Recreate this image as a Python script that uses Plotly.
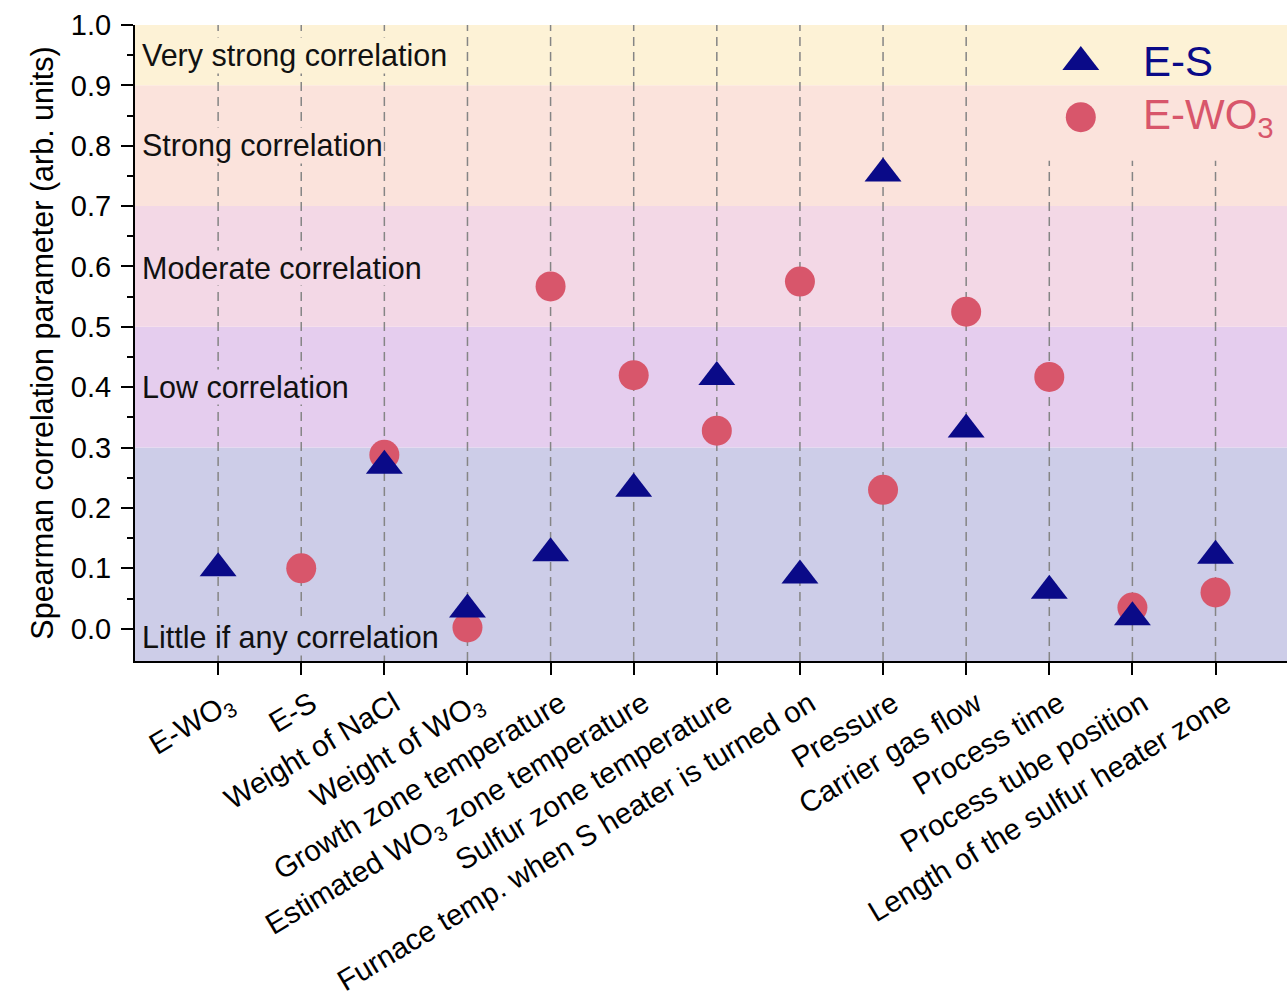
import plotly.graph_objects as go

# Process parameters compared against each response
categories = [
    "E-WO<sub>3</sub>", "E-S", "Weight of NaCl", "Weight of WO<sub>3</sub>",
    "Growth zone temperature", "Estimated WO<sub>3</sub> zone temperature",
    "Sulfur zone temperature", "Furnace temp. when S heater is turned on",
    "Pressure", "Carrier gas flow", "Process time", "Process tube position",
    "Length of the sulfur heater zone",
]
# Spearman correlation with E-S (None where not applicable)
es_values = [0.10, None, 0.27, 0.032, 0.125, 0.232, 0.417, 0.088, 0.754,
             0.33, 0.063, 0.019, 0.121]
# Spearman correlation with E-WO3
ewo3_values = [None, 0.10, 0.288, 0.002, 0.567, 0.42, 0.328, 0.575, 0.23,
               0.525, 0.417, 0.035, 0.06]

# Interpretation bands: (lower, upper, label, colour)
band_low = [-0.0535, 0.3, 0.5, 0.7, 0.9]
band_high = [0.3, 0.5, 0.7, 0.9, 1.0]
band_labels = ["Little if any correlation", "Low correlation",
               "Moderate correlation", "Strong correlation",
               "Very strong correlation"]
band_label_y = [-0.015, 0.4, 0.597, 0.8, 0.95]
band_colors = ["#cdcde8", "#e5cdee", "#f3d8e6", "#fbe3dc", "#fdf2d6"]

NAVY = "#0a0a88"
ROSE = "#d8566b"
FONT = "Liberation Sans, Arial, sans-serif"

xpos = list(range(1, len(categories) + 1))
y_min, y_max = band_low[0], band_high[-1]
x_max = 13.86

fig = go.Figure()

# E-WO3 points first so the triangles sit on top
fig.add_trace(go.Scatter(
    x=xpos, y=ewo3_values, mode="markers", name="E-WO<sub>3</sub>",
    marker=dict(symbol="circle", size=30, color=ROSE, line=dict(width=0)),
    showlegend=False,
))
fig.add_trace(go.Scatter(
    x=xpos, y=es_values, mode="markers", name="E-S",
    marker=dict(symbol="triangle-up", size=32, color=NAVY, line=dict(width=0)),
    showlegend=False,
))

# Legend drawn on a hidden paper-scaled axis so the symbols keep their size
legend_names = ["E-S", "E-WO<sub>3</sub>"]
legend_symbols = ["triangle-up", "circle"]
legend_colors = [NAVY, ROSE]
legend_sizes = [32, 30]
legend_y = [0.942, 0.855]
for name, sym, col, sz, ly in zip(legend_names, legend_symbols, legend_colors,
                                  legend_sizes, legend_y):
    fig.add_trace(go.Scatter(
        x=[0.821], y=[ly], mode="markers", xaxis="x3", yaxis="y3",
        marker=dict(symbol=sym, size=sz, color=col, line=dict(width=0)),
        showlegend=False, hoverinfo="skip",
    ))
    fig.add_annotation(
        x=0.873, y=ly, xref="paper", yref="paper", text=name,
        showarrow=False, xanchor="left", yanchor="middle",
        font=dict(family=FONT, size=42, color=col),
    )

shapes = []
# Coloured correlation bands
for lo, hi, col in zip(band_low, band_high, band_colors):
    shapes.append(dict(type="rect", xref="paper", yref="y", x0=0, x1=1,
                       y0=lo, y1=hi, fillcolor=col, line=dict(width=0),
                       layer="below"))
# Dashed guide line at every category (right-most ones stop below the legend)
for i, xp in enumerate(xpos):
    top = y_max if xp <= 10 else 0.775
    shapes.append(dict(type="line", xref="x", yref="y", x0=xp, x1=xp,
                       y0=y_min, y1=top,
                       line=dict(color="#858585", width=1.5, dash="9px,6px"),
                       layer="below"))

# Band names
for lbl, ly, col in zip(band_labels, band_label_y, band_colors):
    fig.add_annotation(
        x=0, y=ly, xref="paper", yref="y", text=lbl, showarrow=False,
        xanchor="left", yanchor="middle", xshift=6, bgcolor=col, borderpad=0,
        font=dict(family=FONT, size=30.5, color="#111111"),
    )

fig.update_layout(
    width=1287, height=996,
    margin=dict(l=135, r=0, t=25, b=335),
    paper_bgcolor="white", plot_bgcolor="white",
    font=dict(family=FONT, color="black"),
    shapes=shapes,
    xaxis=dict(
        range=[0, x_max], tickmode="array", tickvals=xpos,
        ticktext=categories, tickangle=-31, automargin=False,
        tickfont=dict(family=FONT, size=29.5, color="black"),
        ticks="outside", ticklen=12, tickwidth=2, tickcolor="black",
        ticklabelstandoff=0, ticklabelshift=10,
        showline=True, linecolor="black", linewidth=2,
        showgrid=False, zeroline=False,
    ),
    xaxis2=dict(
        overlaying="x", side="top", anchor="y", range=[0, x_max],
        tickmode="array", tickvals=[0] + xpos, showticklabels=False,
        ticks="inside", ticklen=5, tickwidth=1.5, tickcolor="black",
        showline=True, linecolor="black", linewidth=2, automargin=False,
        showgrid=False, zeroline=False,
    ),
    # Origin tick at the left end of the category axis
    xaxis4=dict(
        overlaying="x", side="bottom", anchor="y", range=[0, x_max],
        tickmode="array", tickvals=[0], showticklabels=False,
        ticks="outside", ticklen=12, tickwidth=2, tickcolor="black",
        showline=False, showgrid=False, zeroline=False, automargin=False,
    ),
    yaxis=dict(
        range=[y_min, y_max], tickmode="array", automargin=False,
        tickvals=[round(v * 0.1, 1) for v in range(11)], tickformat=".1f",
        tickfont=dict(family=FONT, size=29, color="black"),
        ticks="outside", ticklen=12, tickwidth=2, tickcolor="black",
        ticklabelstandoff=4,
        minor=dict(tickmode="array",
                   tickvals=[round(0.05 + v * 0.1, 2) for v in range(10)],
                   ticks="outside", ticklen=6, tickwidth=2,
                   tickcolor="black", showgrid=False),
        showline=True, linecolor="black", linewidth=2,
        showgrid=False, zeroline=False,
        title=dict(text="Spearman correlation parameter (arb. units)",
                   font=dict(family=FONT, size=30.5, color="black"),
                   standoff=8),
    ),
    xaxis3=dict(overlaying="x", range=[0, 1], visible=False),
    yaxis3=dict(overlaying="y", range=[0, 1], visible=False),
)

fig.write_html("out.html")
